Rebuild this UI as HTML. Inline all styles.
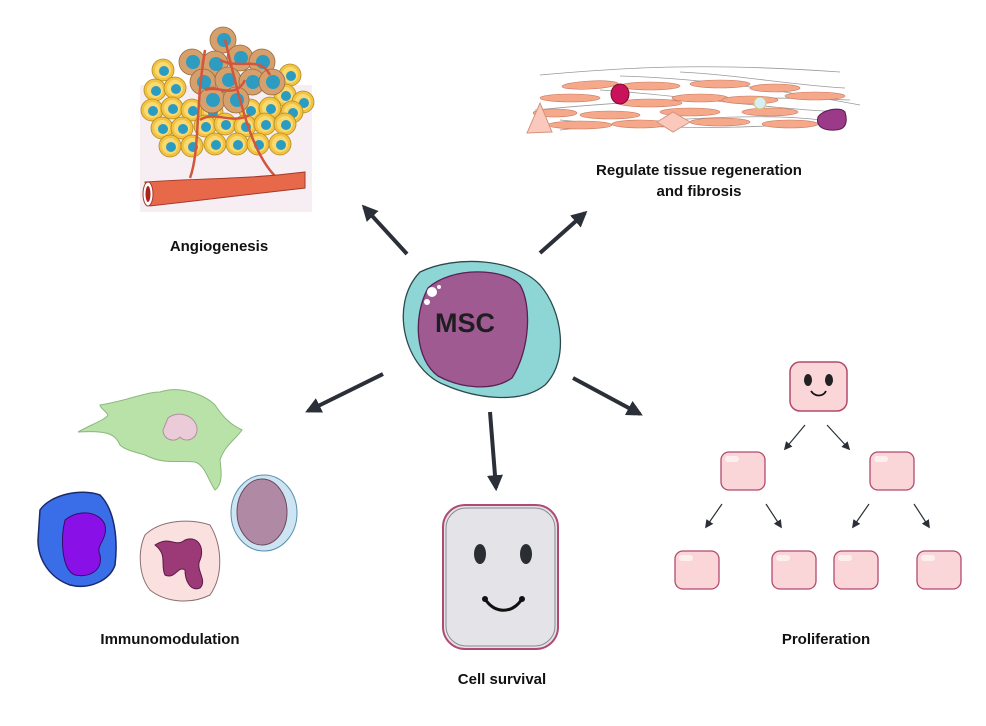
<!DOCTYPE html>
<html><head><meta charset="utf-8"><style>
html,body{margin:0;padding:0;background:#fff;}
svg{display:block;}
text{font-family:"Liberation Sans",sans-serif;font-weight:bold;font-size:15px;fill:#111;}
</style></head><body>
<svg width="986" height="726" viewBox="0 0 986 726" xmlns="http://www.w3.org/2000/svg">
<defs>
<marker id="ah" viewBox="0 0 10 10" refX="8" refY="5" markerWidth="4" markerHeight="4" orient="auto"><path d="M0,0 L10,5 L0,10 z" fill="#2b3038"/></marker>
<marker id="as" viewBox="0 0 10 10" refX="8" refY="5" markerWidth="7" markerHeight="7" orient="auto"><path d="M0,0 L10,5 L0,10 z" fill="#2b3038"/></marker>
<g id="yc"><circle r="11" fill="#f3c33f" stroke="#b08a2a" stroke-width="0.8"/><circle r="8" fill="#f9da72"/><circle cx="1" cy="1" r="5" fill="#2a9bc2"/></g>
<g id="bc"><circle r="13" fill="#d6a06c" stroke="#9a6a40" stroke-width="0.8"/><circle cx="1" r="7" fill="#2d9cc0"/></g>
<g id="pb"><rect x="-22" y="-19" width="44" height="38" rx="8" fill="#fbd6d8" stroke="#b24a6c" stroke-width="1.3"/><rect x="-18" y="-15" width="14" height="6" rx="3" fill="#fff" opacity="0.6"/></g>
</defs>

<!-- Angiogenesis -->
<rect x="140" y="85" width="172" height="127" fill="#f6eef3"/>
<g>
<use href="#yc" x="163" y="70"/><use href="#yc" x="290" y="75"/>
<use href="#yc" x="155" y="90"/><use href="#yc" x="175" y="88"/><use href="#yc" x="285" y="95"/><use href="#yc" x="303" y="102"/>
<use href="#yc" x="152" y="110"/><use href="#yc" x="172" y="108"/><use href="#yc" x="192" y="110"/><use href="#yc" x="212" y="112"/><use href="#yc" x="250" y="110"/><use href="#yc" x="270" y="108"/><use href="#yc" x="292" y="112"/>
<use href="#yc" x="162" y="128"/><use href="#yc" x="182" y="128"/><use href="#yc" x="205" y="126"/><use href="#yc" x="225" y="124"/><use href="#yc" x="245" y="126"/><use href="#yc" x="265" y="124"/><use href="#yc" x="285" y="124"/>
<use href="#yc" x="170" y="146"/><use href="#yc" x="192" y="146"/><use href="#yc" x="215" y="144"/><use href="#yc" x="237" y="144"/><use href="#yc" x="258" y="144"/><use href="#yc" x="280" y="144"/>
<use href="#bc" x="223" y="40"/><use href="#bc" x="192" y="62"/><use href="#bc" x="215" y="64"/><use href="#bc" x="240" y="58"/><use href="#bc" x="262" y="62"/><use href="#bc" x="203" y="82"/><use href="#bc" x="228" y="80"/><use href="#bc" x="252" y="82"/><use href="#bc" x="272" y="82"/><use href="#bc" x="212" y="100"/><use href="#bc" x="236" y="100"/>
</g>
<g fill="none" stroke="#d2553e" stroke-width="2.5">
<path d="M190,178 C200,150 195,110 205,50"/><path d="M275,176 C250,150 240,100 225,40"/>
<path d="M205,90 C220,85 235,100 245,80"/><path d="M220,60 C240,70 260,55 270,75"/><path d="M200,120 C215,110 230,125 250,115"/>
</g>
<path d="M145,182 C200,178 240,180 305,172 L305,188 C240,196 200,200 150,206 Z" fill="#e8684a" stroke="#a23a2a" stroke-width="1"/>
<ellipse cx="148" cy="194" rx="5" ry="12" fill="#fff" stroke="#a23a2a"/><ellipse cx="148" cy="194" rx="2.5" ry="8" fill="#b0201a"/>
<text x="219" y="251" text-anchor="middle">Angiogenesis</text>

<!-- Tissue regeneration -->
<g stroke="#999" stroke-width="0.8" fill="none">
<path d="M540,75 C620,68 700,62 840,72"/><path d="M535,110 C640,100 740,95 850,100"/><path d="M560,130 C650,120 760,112 820,120"/><path d="M620,76 C700,78 780,90 860,105"/><path d="M680,72 C740,75 790,85 845,88"/><path d="M560,120 C640,128 720,130 800,124"/><path d="M600,90 C680,95 760,108 840,112"/>
</g>
<g fill="#f5a88a" stroke="#c8785e" stroke-width="0.6">
<ellipse cx="590" cy="85" rx="28" ry="4" transform="rotate(-3 590 85)"/><ellipse cx="570" cy="98" rx="30" ry="4"/><ellipse cx="650" cy="86" rx="30" ry="4"/><ellipse cx="720" cy="84" rx="30" ry="4"/><ellipse cx="775" cy="88" rx="25" ry="4"/>
<ellipse cx="650" cy="103" rx="32" ry="4"/><ellipse cx="700" cy="98" rx="28" ry="4"/><ellipse cx="750" cy="100" rx="28" ry="4"/><ellipse cx="815" cy="96" rx="30" ry="4"/>
<ellipse cx="555" cy="113" rx="22" ry="4"/><ellipse cx="610" cy="115" rx="30" ry="4"/><ellipse cx="690" cy="112" rx="30" ry="4"/><ellipse cx="770" cy="112" rx="28" ry="4"/>
<ellipse cx="580" cy="125" rx="32" ry="4"/><ellipse cx="640" cy="124" rx="28" ry="4"/><ellipse cx="720" cy="122" rx="30" ry="4"/><ellipse cx="790" cy="124" rx="28" ry="4"/>
</g>
<path d="M540,103 L552,132 L527,133 Z" fill="#fbc9bb" stroke="#d49480"/>
<path d="M657,122 L673,112 L690,122 L673,132 Z" fill="#fbc9bb" stroke="#d49480"/>
<ellipse cx="620" cy="94" rx="9" ry="10" fill="#c8135a" stroke="#7a0a30"/>
<circle cx="760" cy="103" r="6" fill="#d6eef4" stroke="#d8c070"/>
<path d="M818,117 C822,110 840,106 845,112 C848,122 846,130 835,130 C820,131 816,124 818,117Z" fill="#9a3a88" stroke="#5a1a50"/>
<text x="699" y="175" text-anchor="middle">Regulate tissue regeneration</text>
<text x="699" y="196" text-anchor="middle">and fibrosis</text>

<!-- MSC -->
<path d="M420,272 C455,255 515,258 540,285 C562,310 570,360 545,385 C520,405 475,398 445,385 C405,370 388,305 420,272Z" fill="#8ed6d6" stroke="#2c4a4e" stroke-width="1.3"/>
<path d="M428,288 C452,266 505,268 520,285 C532,305 530,350 512,378 C492,392 460,388 438,376 C416,360 412,318 428,288Z" fill="#a05a92" stroke="#5a2050" stroke-width="1.3"/>
<circle cx="432" cy="292" r="5" fill="#fff"/><circle cx="427" cy="302" r="3" fill="#fff"/><circle cx="439" cy="287" r="2" fill="#fff"/>
<text x="465" y="332" text-anchor="middle" style="font-size:27px;fill:#1e1e22">MSC</text>

<!-- Main arrows -->
<g stroke="#2b3038" stroke-width="4" fill="none" marker-end="url(#ah)">
<line x1="407" y1="254" x2="364" y2="207"/>
<line x1="540" y1="253" x2="585" y2="213"/>
<line x1="383" y1="374" x2="308" y2="411"/>
<line x1="490" y1="412" x2="496" y2="488"/>
<line x1="573" y1="378" x2="640" y2="414"/>
</g>

<!-- Immunomodulation -->
<path d="M100,405 C130,400 145,392 160,392 C180,385 205,395 215,405 C225,420 232,425 242,430 C235,440 225,445 220,460 C222,475 222,485 215,490 C208,480 205,465 195,462 C175,460 165,465 145,455 C135,452 125,450 120,445 C115,435 110,430 78,432 C90,425 105,420 108,415 C105,410 100,408 100,405Z" fill="#b9e2a8" stroke="#8ab87a" stroke-width="1"/>
<path d="M168,418 C178,410 195,415 197,428 C198,440 185,443 180,437 C175,443 163,440 163,430 Z" fill="#eccbd8" stroke="#b090a0"/>
<path d="M40,510 C50,495 80,488 100,495 C115,510 118,540 115,565 C110,580 90,590 70,585 C50,578 38,560 38,540 Z" fill="#3a6ee8" stroke="#1a2a6a" stroke-width="1.5"/>
<path d="M65,520 C80,508 100,512 105,525 C108,540 95,545 100,555 C103,570 90,578 75,575 C62,570 60,540 65,520Z" fill="#8a10e8" stroke="#3a0a6a"/>
<path d="M145,535 C160,520 190,518 210,525 C222,545 224,575 210,595 C190,605 165,602 150,590 C138,575 138,550 145,535Z" fill="#fbe0e0" stroke="#8a7070"/>
<path d="M155,545 C170,535 175,548 185,540 C198,535 205,548 200,560 C195,570 208,580 200,588 C190,592 185,580 185,570 C178,565 175,580 165,575 C160,565 168,555 155,545Z" fill="#9c3a78" stroke="#5a1a48"/>
<ellipse cx="264" cy="513" rx="33" ry="38" fill="#cde4f2" stroke="#5a90b0"/>
<ellipse cx="262" cy="512" rx="25" ry="33" fill="#b08aa4" stroke="#6a4a60"/>
<text x="170" y="644" text-anchor="middle">Immunomodulation</text>

<!-- Cell survival -->
<rect x="443" y="505" width="115" height="144" rx="22" fill="#e4e3e8" stroke="#b04a70" stroke-width="2"/>
<rect x="446" y="508" width="109" height="138" rx="20" fill="none" stroke="#8a8a95" stroke-width="1"/>
<ellipse cx="480" cy="554" rx="6" ry="10" fill="#2a2d32"/><ellipse cx="526" cy="554" rx="6" ry="10" fill="#2a2d32"/>
<path d="M485,599 C495,614 512,614 522,599" fill="none" stroke="#111" stroke-width="3"/>
<circle cx="485" cy="599" r="3" fill="#111"/><circle cx="522" cy="599" r="3" fill="#111"/>
<text x="502" y="684" text-anchor="middle">Cell survival</text>

<!-- Proliferation -->
<rect x="790" y="362" width="57" height="49" rx="10" fill="#fbd6d8" stroke="#b24a6c" stroke-width="1.5"/>
<ellipse cx="808" cy="380" rx="4" ry="6" fill="#222"/><ellipse cx="829" cy="380" rx="4" ry="6" fill="#222"/>
<path d="M811,391 C815,397 823,397 826,391" fill="none" stroke="#111" stroke-width="1.8"/>
<use href="#pb" x="743" y="471"/><use href="#pb" x="892" y="471"/>
<use href="#pb" x="697" y="570"/><use href="#pb" x="794" y="570"/><use href="#pb" x="856" y="570"/><use href="#pb" x="939" y="570"/>
<g stroke="#2b3038" stroke-width="1.2" marker-end="url(#as)">
<line x1="805" y1="425" x2="785" y2="449"/><line x1="827" y1="425" x2="849" y2="449"/>
<line x1="722" y1="504" x2="706" y2="527"/><line x1="766" y1="504" x2="781" y2="527"/>
<line x1="869" y1="504" x2="853" y2="527"/><line x1="914" y1="504" x2="929" y2="527"/>
</g>
<text x="826" y="644" text-anchor="middle">Proliferation</text>
</svg>
</body></html>
